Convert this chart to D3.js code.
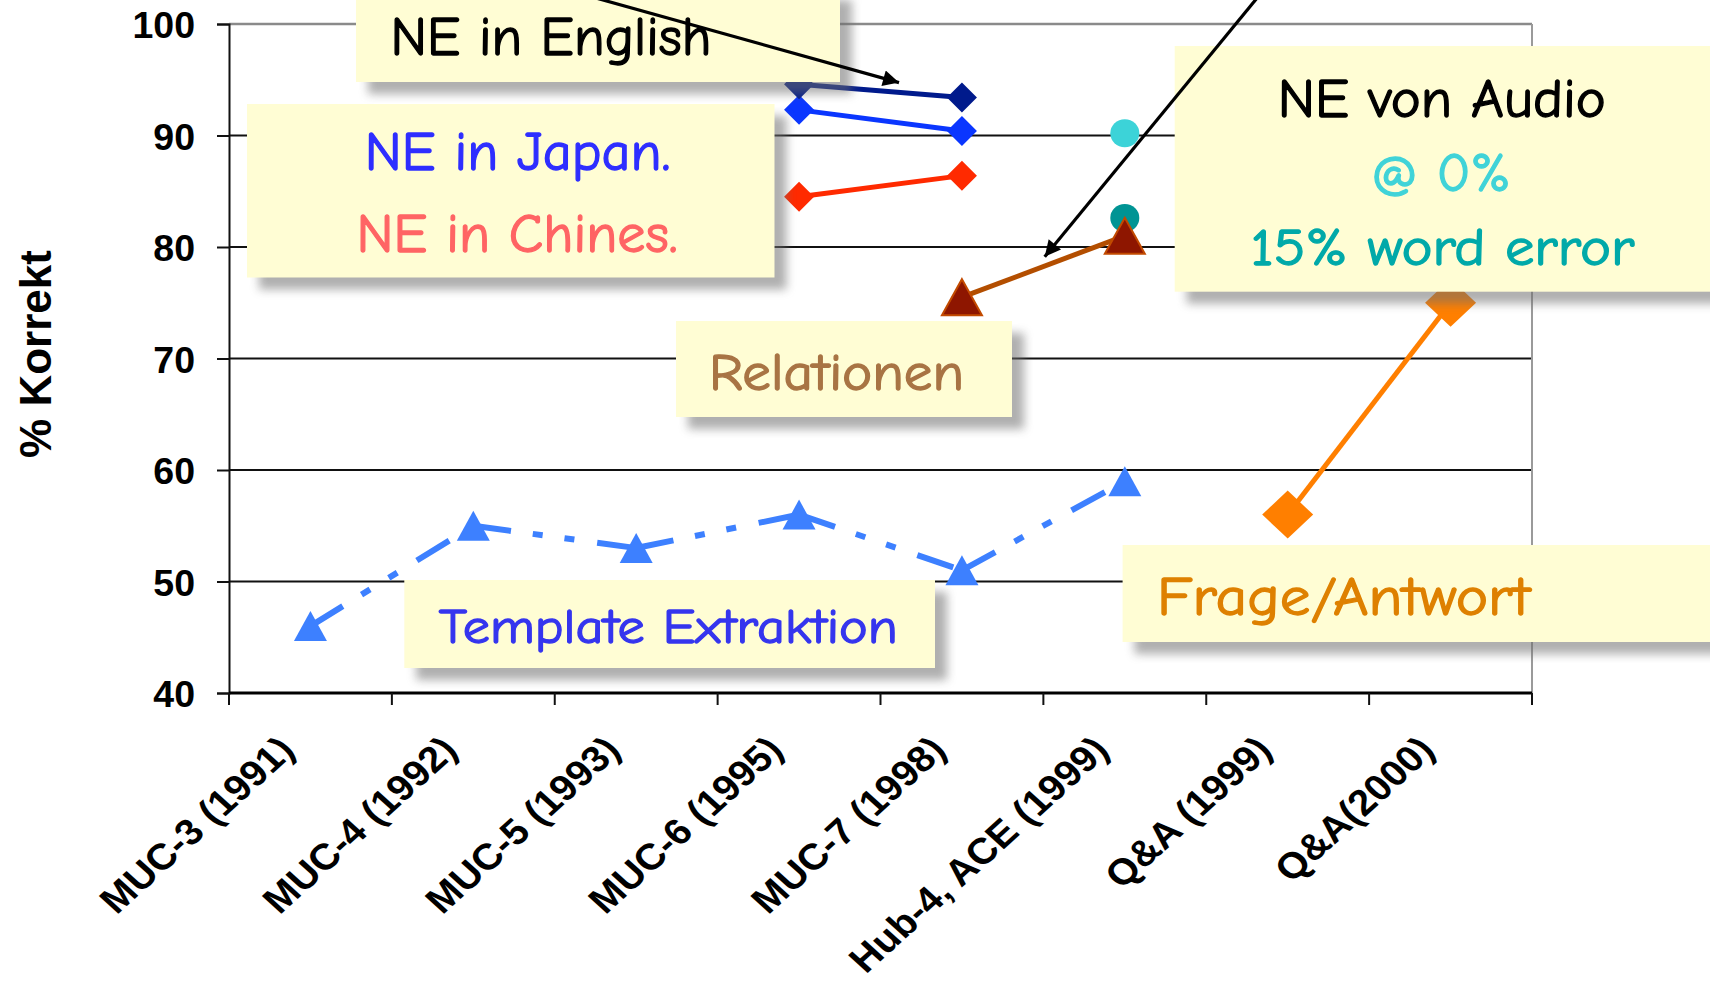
<!DOCTYPE html>
<html><head><meta charset="utf-8">
<script src="https://cdn.jsdelivr.net/npm/d3@7"></script>
<style>html,body{margin:0;padding:0;background:#fff;overflow:hidden}</style>
</head><body>
<svg id="chart" width="1710" height="983"></svg>
<script>
// ---------- data ----------
const categories = ["MUC-3 (1991)","MUC-4 (1992)","MUC-5 (1993)","MUC-6 (1995)","MUC-7 (1998)","Hub-4, ACE (1999)","Q&A (1999)","Q&A(2000)"];
const yTicks = [40,50,60,70,80,90,100];
const neEnglish      = [null,null,null,94.6,93.4,null,null,null];
const neJapanese     = [null,null,null,92.3,90.4,null,null,null];
const neChinese      = [null,null,null,84.5,86.4,null,null,null];
const neAudioClean   = [null,null,null,null,null,90.2,null,null];
const neAudio15      = [null,null,null,null,null,82.6,null,null];
const relations      = [null,null,null,null,75.5,81.0,null,null];
const templateExtraction = [46,55,53,56,51,59,null,null];
const questionAnswering  = [null,null,null,null,null,null,56,75];
const yTitle = "% Korrekt";

// ---------- setup ----------
const svg = d3.select("#chart");
svg.append("rect").attr("width",1710).attr("height",983).attr("fill","#fff");
const L = 229, R = 1532, T = 24, B = 693;
const x = d3.scaleBand().domain(categories).range([L, R]);
const y = d3.scaleLinear().domain([40,100]).range([B, T]);
const cx = c => x(c) + x.bandwidth()/2;

const defs = svg.append("defs");
const f = defs.append("filter").attr("id","blur").attr("x","-20%").attr("y","-20%").attr("width","140%").attr("height","140%");
f.append("feGaussianBlur").attr("stdDeviation",5);
defs.append("marker").attr("id","arrow").attr("viewBox","0 0 10 10").attr("refX",10).attr("refY",5)
  .attr("markerUnits","userSpaceOnUse").attr("markerWidth",22).attr("markerHeight",16).attr("orient","auto")
  .append("path").attr("d","M0,0L10,5L0,10Z").attr("fill","#000");

// ---------- grid & frame ----------
const grid = svg.append("g");
grid.selectAll("line.g").data(yTicks.filter(t => t > 40 && t < 100)).join("line")
  .attr("x1",L).attr("x2",R).attr("y1",d=>y(d)).attr("y2",d=>y(d))
  .attr("stroke","#111").attr("stroke-width",2);
grid.append("line").attr("x1",L).attr("x2",R).attr("y1",y(100)).attr("y2",y(100)).attr("stroke","#8a8a8a").attr("stroke-width",2.5);
grid.append("line").attr("x1",R).attr("x2",R).attr("y1",y(100)).attr("y2",y(40)).attr("stroke","#9a9a9a").attr("stroke-width",2);

// y axis
const yAxis = svg.append("g").attr("transform",`translate(${L},0)`)
  .call(d3.axisLeft(y).tickValues(yTicks).tickSize(12).tickPadding(22).tickFormat(d3.format("d")));
yAxis.select(".domain").attr("stroke","#111").attr("stroke-width",2);
yAxis.selectAll(".tick line").attr("stroke","#111").attr("stroke-width",2);
yAxis.selectAll(".tick text").attr("font-family","'Liberation Sans', Arial, sans-serif")
  .attr("font-weight","bold").attr("font-size",37.5).attr("fill","#000").attr("dy","0.36em");

// x axis
svg.append("line").attr("x1",L).attr("x2",R).attr("y1",B).attr("y2",B).attr("stroke","#000").attr("stroke-width",3);
const bounds = categories.map(c => x(c)).concat([R]);
svg.selectAll("line.xt").data(bounds).join("line")
  .attr("x1",d=>d).attr("x2",d=>d).attr("y1",B).attr("y2",B+12).attr("stroke","#111").attr("stroke-width",2);
svg.selectAll("text.xl").data(categories).join("text")
  .attr("transform",d=>`translate(${cx(d)-14},752) scale(1.1,1) rotate(-45)`)
  .attr("text-anchor","end").attr("font-family","'Liberation Sans', Arial, sans-serif")
  .attr("font-weight","bold").attr("font-size",36.5).attr("fill","#000").text(d=>d);

// y title
svg.append("text").attr("transform","translate(51,354) rotate(-90)").attr("text-anchor","middle")
  .attr("font-family","'Liberation Sans', Arial, sans-serif").attr("font-weight","bold").attr("font-size",44)
  .attr("fill","#000").text(yTitle);

// ---------- series ----------
const diamond = (w,h) => `M0,${-h/2}L${w/2},0L0,${h/2}L${-w/2},0Z`;
const triangle = (w,h) => `M0,${-h/2}L${w/2},${h/2}L${-w/2},${h/2}Z`;
const seriesDefs = [
  {v: templateExtraction, line:"#3d80ff", lw:6, dash:"38,22,10,22,10,23", shape:"tri", w:33, h:30, fill:"#3d80ff"},
  {v: neChinese, line:"#ff2a00", lw:5, shape:"dia", w:30, h:30, fill:"#ff2a00"},
  {v: neJapanese, line:"#0a36ff", lw:5, shape:"dia", w:30, h:30, fill:"#0a36ff"},
  {v: neEnglish, line:"#001a8c", lw:5, shape:"dia", w:30, h:30, fill:"#001a8c"},
  {v: neAudioClean, line:"none", lw:0, shape:"circ", w:29, h:28, fill:"#3cd3d8"},
  {v: neAudio15, line:"none", lw:0, shape:"circ", w:29, h:28, fill:"#009494"},
  {v: relations, line:"#b34e00", lw:5, shape:"tri", w:40, h:36, fill:"#8e1600", stroke:"#c24a00"},
  {v: questionAnswering, line:"#ff7f00", lw:5, shape:"dia", w:51, h:48, fill:"#ff7f00"}
];
const lineGen = d3.line().x(d => cx(d.c)).y(d => y(d.v));
const gS = svg.append("g");
seriesDefs.forEach(s => {
  const pts = categories.map((c,i) => ({c, v: s.v[i]}));
  if (s.line !== "none") {
    // one path per segment so the dash pattern restarts at every point
    const segs = d3.pairs(pts).filter(([a,b]) => a.v != null && b.v != null);
    gS.selectAll(null).data(segs).join("path").attr("d", lineGen).attr("fill","none").attr("stroke", s.line)
      .attr("stroke-width", s.lw).attr("stroke-dasharray", s.dash || null);
  }
  const mk = gS.selectAll(null).data(pts.filter(d => d.v != null)).join(s.shape === "circ" ? "ellipse" : "path");
  if (s.shape === "circ") {
    mk.attr("cx", d=>cx(d.c)).attr("cy", d=>y(d.v)).attr("rx", s.w/2).attr("ry", s.h/2).attr("fill", s.fill);
  } else {
    mk.attr("transform", d=>`translate(${cx(d.c)},${y(d.v)})`)
      .attr("d", s.shape === "dia" ? diamond(s.w,s.h) : triangle(s.w,s.h))
      .attr("fill", s.fill).attr("stroke", s.stroke || "none").attr("stroke-width", s.stroke ? 2 : 0);
  }
});

// ---------- annotation boxes ----------
const noteFont = "'Comic Sans MS','Comic Neue',Lato,sans-serif";
const notes = [
  {box:[356,-12,484,94], texts:[{t:"NE in English", x:390.5, y:55, w:321, c:"#000", s:55}]},
  {box:[247,104,527.5,173.5], texts:[{t:"NE in Japan.", x:364.8, y:170, w:305.5, c:"#2e2eff", s:55},
                                       {t:"NE in Chines.", x:356.5, y:251.7, w:321, c:"#ff6464", s:55}]},
  {box:[1174.7,46,600,245.7], texts:[{t:"NE von Audio", x:1277.8, y:116.7, w:328, c:"#000", s:55},
                                       {t:"@ 0%", x:1371, y:190.7, w:140, c:"#40d3d8", s:55},
                                       {t:"15% word error", x:1250.4, y:265, w:384, c:"#00a9a9", s:53}]},
  {box:[676,321,336,96], texts:[{t:"Relationen", x:709, y:390, w:255, c:"#a87444", s:52}]},
  {box:[404.3,580,530.7,88], texts:[{t:"Template Extraktion", x:438.8, y:643, w:459, c:"#3535ee", s:48}]},
  {box:[1122.6,545,650,97], texts:[{t:"Frage/Antwort", x:1157, y:615, w:373, c:"#de8000", s:55}]}
];
const gN = svg.append("g");
notes.forEach(n => {
  const [bx,by,bw,bh] = n.box;
  gN.append("rect").attr("x",bx+12).attr("y",by+12).attr("width",bw).attr("height",bh)
    .attr("fill","#6e6e6e").attr("opacity",0.55).attr("filter","url(#blur)");
  gN.append("rect").attr("x",bx).attr("y",by).attr("width",bw).attr("height",bh).attr("fill","#fffdd4");
  n.texts.forEach(t => {
    gN.append("text").attr("x",t.x).attr("y",t.y).attr("font-family",noteFont).attr("font-size",t.s)
      .attr("fill",t.c).attr("stroke",t.c).attr("stroke-width",1.3).attr("stroke-linejoin","round")
      .attr("textLength",t.w).attr("lengthAdjust","spacingAndGlyphs").text(t.t);
  });
});

// ---------- arrows ----------
svg.append("line").attr("x1",560).attr("y1",-12).attr("x2",899).attr("y2",82.6)
  .attr("stroke","#000").attr("stroke-width",3.2).attr("marker-end","url(#arrow)");
svg.append("line").attr("x1",1262).attr("y1",-8).attr("x2",1044.7).attr("y2",256.7)
  .attr("stroke","#000").attr("stroke-width",3.2).attr("marker-end","url(#arrow)");
</script>
</body></html>
